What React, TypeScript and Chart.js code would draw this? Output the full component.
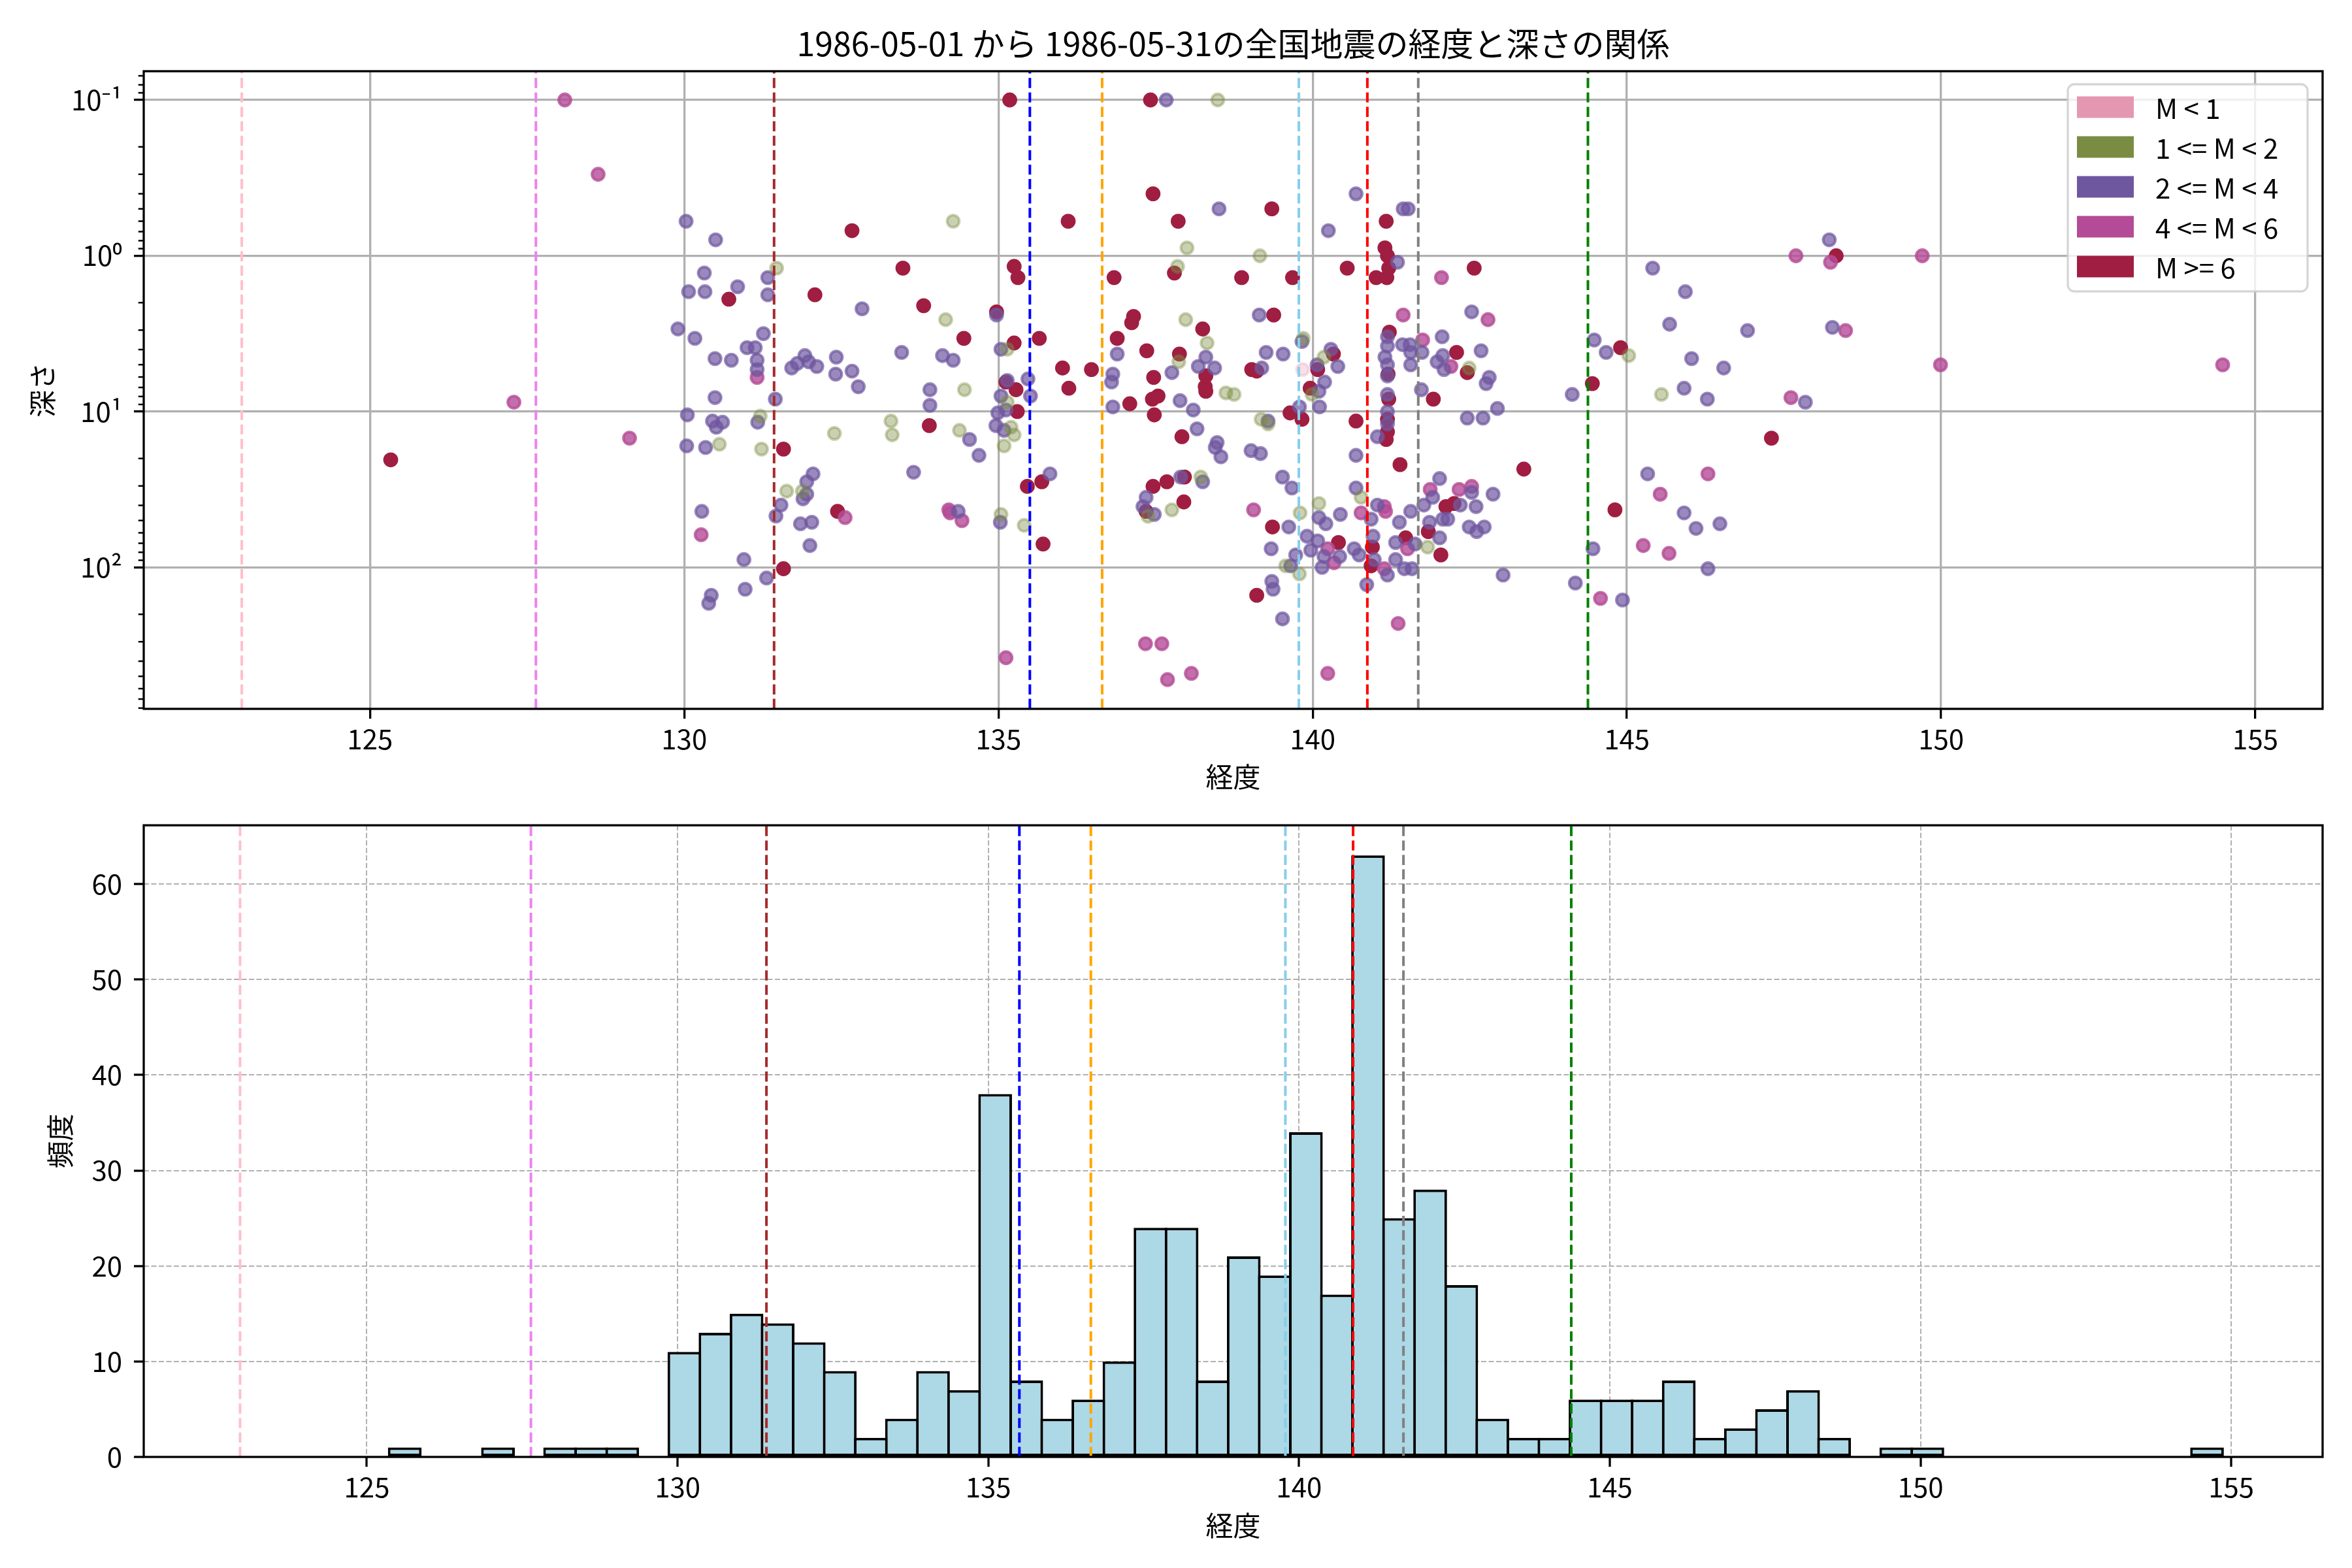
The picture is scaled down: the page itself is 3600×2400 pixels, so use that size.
import React, { useEffect, useRef } from 'react';
import { Chart, registerables } from 'chart.js';

Chart.register(...registerables);

const FONT = "'Noto Sans CJK JP', 'Noto Sans', 'DejaVu Sans', sans-serif";

const TITLE = '1986-05-01 から 1986-05-31の全国地震の経度と深さの関係';
const X_LABEL = '経度';
const Y_LABEL_TOP = '深さ';
const Y_LABEL_BOTTOM = '頻度';

const CATEGORY_LABELS = ['M < 1', '1 <= M < 2', '2 <= M < 4', '4 <= M < 6', 'M >= 6'];
const CATEGORY_COLORS = ['#E597B2', '#7A8C42', '#6F57A0', '#B44B96', '#A01E41'];
const CATEGORY_ALPHA = [0.3, 0.4, 0.7, 0.8, 1.0];

// [longitude, depth]
const QUAKES_M0 = [[139.84, 5.37]];

const QUAKES_M1 = [
  [131.47, 1.2], [131.21, 10.7], [130.56, 16.2], [131.23, 17.4], [132.39, 13.8], [133.29, 11.5],
  [133.31, 14.1], [134.16, 2.57], [134.46, 7.24], [134.38, 13.2], [134.28, 0.6], [135.14, 3.98],
  [135.2, 12.6], [135.25, 14.1], [135.09, 16.6], [135.14, 8.71], [135.04, 45.7], [135.41, 53.7],
  [131.88, 32.4], [131.63, 32.4], [138.49, 0.1], [138.0, 0.89], [139.16, 1.0], [137.85, 1.17],
  [137.98, 2.57], [138.32, 3.63], [137.87, 4.79], [138.62, 7.59], [138.75, 7.76], [139.18, 11.2],
  [139.29, 12.0], [139.85, 3.39], [139.99, 7.76], [140.18, 4.47], [142.49, 5.25], [145.03, 4.37],
  [137.38, 47.0], [137.76, 42.7], [138.22, 26.3], [139.8, 44.7], [139.57, 97.7], [139.79, 110],
  [140.1, 38.9], [140.77, 35.5], [141.83, 74.1], [145.55, 7.76],
];

const QUAKES_M2 = [
  [130.03, 0.6], [130.5, 0.79], [130.32, 1.29], [130.07, 1.7], [130.33, 1.7], [130.85, 1.58],
  [131.33, 1.38], [131.33, 1.78], [129.9, 2.95], [130.17, 3.39], [131.26, 3.16], [130.49, 4.57],
  [130.75, 4.68], [131.0, 3.89], [131.13, 3.89], [131.16, 4.68], [131.16, 5.37], [130.49, 8.13],
  [131.45, 8.32], [130.05, 10.5], [130.45, 11.5], [130.61, 11.7], [130.51, 12.6], [131.17, 11.7],
  [130.04, 16.6], [130.34, 17.0], [132.83, 2.19], [131.92, 4.37], [131.8, 4.9], [131.71, 5.25],
  [131.98, 4.79], [132.11, 5.13], [132.42, 4.47], [132.41, 5.75], [132.67, 5.5], [132.77, 6.92],
  [133.46, 4.17], [134.11, 4.37], [134.28, 4.68], [133.91, 7.24], [133.91, 9.12], [134.54, 15.1],
  [134.69, 19.1], [133.65, 24.5], [134.97, 2.4], [135.04, 3.98], [135.14, 6.31], [135.47, 6.17],
  [135.51, 7.94], [135.04, 7.94], [134.99, 10.2], [135.12, 9.77], [134.96, 12.3], [135.09, 13.2],
  [135.82, 25.1], [135.03, 51.3], [136.8, 6.46], [132.05, 25.1], [131.95, 28.2], [131.95, 33.9],
  [131.89, 36.3], [131.54, 39.8], [131.46, 46.8], [131.85, 52.5], [132.03, 51.3], [132.0, 72.4],
  [130.28, 43.7], [130.95, 89.1], [131.31, 117], [130.97, 138], [130.43, 151], [130.39, 170],
  [134.36, 43.7],
  [137.67, 0.1], [138.51, 0.5], [139.15, 2.4], [138.3, 4.47], [136.89, 4.27], [138.18, 5.13],
  [137.76, 5.62], [138.44, 5.25], [139.26, 4.17], [139.53, 4.27], [139.19, 5.25], [137.89, 8.51],
  [138.1, 9.77], [136.82, 5.75], [136.82, 9.33], [138.16, 12.9], [138.48, 15.8], [138.45, 17.0],
  [138.54, 19.5], [139.02, 17.8], [139.17, 18.6], [139.29, 11.5], [139.79, 9.33], [139.83, 3.55],
  [140.11, 9.33], [140.1, 7.41], [140.19, 6.46], [140.07, 5.01], [140.29, 3.98], [140.4, 5.13],
  [140.25, 0.69], [140.69, 0.4], [140.69, 19.1], [141.44, 0.5], [141.52, 0.5], [141.35, 1.1],
  [141.19, 3.31], [141.19, 3.8], [141.15, 4.47], [141.19, 5.01], [141.19, 5.9], [141.19, 7.76],
  [141.19, 10.0], [141.19, 12.0], [141.03, 14.5], [141.43, 3.72], [141.55, 3.72], [141.56, 4.17],
  [141.56, 5.01], [141.74, 4.17], [141.73, 7.24], [142.53, 2.29], [142.06, 3.31], [142.07, 4.37],
  [141.98, 4.79], [142.09, 5.37], [142.68, 4.07], [142.81, 6.03], [142.76, 6.61], [142.94, 9.55],
  [142.46, 11.0], [142.71, 11.0], [144.48, 3.47], [144.67, 4.17], [144.13, 7.76], [142.02, 26.9],
  [141.91, 35.5], [142.53, 33.0], [142.87, 33.9], [141.77, 39.8], [142.35, 39.8], [142.6, 40.7],
  [141.86, 51.3], [142.07, 49.0], [142.15, 49.0], [142.02, 64.6], [142.49, 55.0], [142.61, 58.9],
  [142.73, 55.0], [143.03, 112], [144.18, 126], [144.46, 75.9], [144.93, 162], [137.35, 35.5],
  [137.3, 40.7], [137.48, 45.7], [137.9, 26.3], [138.25, 28.2], [139.62, 55.0], [139.34, 75.9],
  [139.52, 26.3], [139.67, 30.9], [139.73, 83.2], [139.65, 97.7], [139.35, 123], [139.37, 138],
  [139.52, 214], [139.91, 63.1], [139.97, 77.6], [140.1, 47.9], [140.21, 52.5], [140.08, 67.6],
  [140.18, 85.1], [140.15, 100], [140.43, 85.1], [140.44, 45.7], [140.69, 30.9], [140.66, 75.9],
  [140.74, 83.2], [140.96, 63.1], [140.93, 49.0], [141.03, 39.8], [140.98, 89.1], [141.19, 112],
  [140.86, 129], [141.38, 51.3], [141.32, 69.2], [141.32, 89.1], [141.46, 102], [141.56, 43.7],
  [141.58, 102], [141.63, 70.8],
  [148.22, 0.79], [145.41, 1.2], [145.93, 1.7], [145.68, 2.75], [146.92, 3.02], [148.27, 2.88],
  [146.03, 4.57], [146.54, 5.25], [145.91, 7.08], [146.28, 8.32], [147.84, 8.71],
  [145.33, 25.1], [145.91, 44.7], [146.1, 56.2], [146.48, 52.5], [146.29, 102],
];

const QUAKES_M4 = [
  [127.29, 8.7], [128.1, 0.1], [128.63, 0.3], [129.13, 14.8], [131.16, 6.03], [135.12, 380],
  [132.56, 47.9], [130.27, 61.7], [134.21, 42.7], [134.23, 44.7], [134.42, 50.1], [141.75, 3.47],
  [141.44, 2.4], [142.05, 1.38], [142.79, 2.57], [142.2, 5.13], [141.87, 31.6], [142.33, 31.6],
  [142.53, 30.2], [144.58, 158], [139.06, 42.7], [140.24, 75.9], [140.34, 93.3], [140.77, 44.7],
  [141.14, 40.7], [141.16, 43.7], [141.14, 102], [141.51, 75.9], [141.36, 229], [140.24, 479],
  [137.34, 309], [137.6, 309], [137.69, 525], [138.07, 479], [147.69, 1.0], [148.24, 1.1],
  [149.7, 1.0], [148.48, 3.02], [149.99, 5.01], [154.48, 5.01], [147.61, 8.13], [145.53, 33.9],
  [146.29, 25.1], [145.26, 72.4], [145.67, 81.3],
];

const QUAKES_M6 = [
  [125.33, 20.4], [130.71, 1.9], [132.08, 1.78], [132.67, 0.69], [131.58, 17.4], [133.48, 1.2],
  [133.81, 2.09], [134.45, 3.39], [133.9, 12.3], [134.97, 2.29], [135.25, 3.63], [135.25, 1.17],
  [135.31, 1.38], [135.18, 0.1], [135.12, 6.46], [135.28, 7.24], [135.3, 10.0], [135.65, 3.39],
  [136.11, 0.6], [136.02, 5.25], [136.48, 5.37], [136.12, 7.08], [135.46, 30.2], [135.69, 28.2],
  [135.71, 70.8], [132.44, 43.7], [131.58, 102],
  [137.42, 0.1], [137.46, 0.4], [137.86, 0.6], [139.35, 0.5], [137.8, 1.29], [136.84, 1.38],
  [138.87, 1.38], [139.68, 1.38], [137.15, 2.45], [137.12, 2.69], [139.38, 2.4], [136.89, 3.39],
  [138.25, 2.95], [137.36, 4.07], [137.88, 4.27], [139.03, 5.37], [139.11, 5.5], [137.47, 6.03],
  [138.3, 5.89], [138.29, 6.92], [138.3, 7.41], [137.54, 7.94], [137.45, 8.32], [137.09, 8.91],
  [137.48, 10.5], [137.92, 14.5], [139.64, 10.2], [139.83, 11.2], [140.08, 5.37], [139.96, 7.08],
  [140.33, 4.27], [140.55, 1.2], [140.69, 11.5], [141.17, 0.6], [141.15, 0.89], [141.19, 1.0],
  [141.21, 1.2], [141.01, 1.38], [141.18, 1.38], [141.22, 3.09], [141.2, 5.75], [141.21, 8.32],
  [141.19, 11.2], [141.19, 13.5], [141.17, 15.1], [142.57, 1.2], [142.29, 4.17], [142.46, 5.62],
  [141.92, 8.32], [143.36, 23.4], [144.9, 3.89], [144.45, 6.61], [141.39, 21.9], [142.12, 40.7],
  [142.25, 38.9], [141.84, 58.9], [142.04, 83.2], [144.81, 42.7], [137.35, 43.7], [137.46, 30.2],
  [137.68, 28.2], [137.96, 26.3], [137.95, 38.0], [139.36, 55.0], [139.11, 151], [140.41, 69.2],
  [140.95, 74.1], [140.93, 97.7], [141.48, 64.6], [148.33, 1.0], [147.3, 14.8],
];

const CATEGORY_DATA = [QUAKES_M0, QUAKES_M1, QUAKES_M2, QUAKES_M4, QUAKES_M6];

// reference longitudes (dashed vertical lines)
const REF_LON = [122.96, 127.64, 131.43, 135.5, 136.65, 139.78, 140.87, 141.68, 144.38];
const REF_COLORS = ['#FFC0CB', '#EE82EE', '#A52A2A', '#0000FF', '#FFA500', '#87CEEB', '#FF0000', '#808080', '#008000'];

const X_TICKS = [125, 130, 135, 140, 145, 150, 155];
const DEPTH_TICKS = [0.1, 1, 10, 100];
const DEPTH_TICK_LABELS = ['10⁻¹', '10⁰', '10¹', '10²'];
const COUNT_TICKS = [0, 10, 20, 30, 40, 50, 60];

const HIST_BIN_START = 125.36;
const HIST_BIN_WIDTH = 0.5;
const HIST_COUNTS = [
  1, 0, 0, 1, 0, 1, 1, 1, 0, 11, 13, 15, 14, 12, 9, 2, 4, 9, 7, 38, 8, 4, 6, 10, 24, 24, 8, 21, 19, 34,
  17, 63, 25, 28, 18, 4, 2, 2, 6, 6, 6, 8, 2, 3, 5, 7, 2, 0, 1, 1, 0, 0, 0, 0, 0, 0, 0, 0, 1,
];

const TOP_X_RANGE = [121.4, 156.07];
const BOTTOM_X_RANGE = [121.41, 156.47];
const DEPTH_RANGE = [0.0654, 809];
const COUNT_RANGE = [0, 66.15];

function rgba(hex: string, a: number) {
  const n = parseInt(hex.slice(1), 16);
  return `rgba(${(n >> 16) & 255},${(n >> 8) & 255},${n & 255},${a})`;
}

const refLinesPlugin = {
  id: 'refLines',
  afterDatasetsDraw(chart: any) {
    const { ctx, chartArea, scales } = chart;
    ctx.save();
    ctx.beginPath();
    ctx.rect(chartArea.left, chartArea.top, chartArea.right - chartArea.left, chartArea.bottom - chartArea.top);
    ctx.clip();
    REF_LON.forEach((lon, i) => {
      const x = scales.x.getPixelForValue(lon);
      ctx.strokeStyle = REF_COLORS[i];
      ctx.lineWidth = 4;
      ctx.setLineDash([15.4, 6.7]);
      ctx.beginPath();
      ctx.moveTo(x, chartArea.bottom);
      ctx.lineTo(x, chartArea.top);
      ctx.stroke();
    });
    ctx.restore();
  },
};

const framePlugin = {
  id: 'frame',
  afterDraw(chart: any) {
    const { ctx, chartArea } = chart;
    ctx.save();
    ctx.strokeStyle = '#000';
    ctx.lineWidth = 3.3;
    ctx.setLineDash([]);
    ctx.strokeRect(chartArea.left, chartArea.top, chartArea.right - chartArea.left, chartArea.bottom - chartArea.top);
    ctx.restore();
  },
};

const minorTicksPlugin = {
  id: 'minorTicks',
  afterDraw(chart: any) {
    const { ctx, chartArea, scales } = chart;
    const y = scales.y;
    ctx.save();
    ctx.strokeStyle = '#000';
    ctx.lineWidth = 2.5;
    const d0 = Math.floor(Math.log10(y.min));
    const d1 = Math.floor(Math.log10(y.max));
    for (let d = d0; d <= d1; d++) {
      for (let k = 2; k <= 9; k++) {
        const v = k * Math.pow(10, d);
        if (v < y.min || v > y.max) continue;
        const py = y.getPixelForValue(v);
        ctx.beginPath();
        ctx.moveTo(chartArea.left, py);
        ctx.lineTo(chartArea.left - 8.3, py);
        ctx.stroke();
      }
    }
    ctx.restore();
  },
};

const legendPlugin = {
  id: 'boxLegend',
  afterDraw(chart: any) {
    const { ctx, chartArea } = chart;
    ctx.save();
    ctx.font = `42px ${FONT}`;
    const textW = Math.max(...CATEGORY_LABELS.map((t) => ctx.measureText(t).width));
    const padL = 14;
    const patchW = 87;
    const patchH = 33;
    const gap = 33;
    const boxW = Math.max(367, padL + patchW + gap + textW + 20);
    const boxH = 317;
    const boxRight = chartArea.right - 23;
    const boxLeft = boxRight - boxW;
    const boxTop = chartArea.top + 20;
    ctx.beginPath();
    ctx.roundRect(boxLeft, boxTop, boxW, boxH, 10);
    ctx.fillStyle = 'rgba(255,255,255,0.8)';
    ctx.fill();
    ctx.strokeStyle = 'rgba(204,204,204,0.8)';
    ctx.lineWidth = 3.3;
    ctx.stroke();
    CATEGORY_LABELS.forEach((label, i) => {
      const cy = boxTop + 35 + i * 61;
      ctx.fillStyle = CATEGORY_COLORS[i];
      ctx.fillRect(boxLeft + padL, cy - patchH / 2, patchW, patchH);
      ctx.fillStyle = '#000';
      ctx.textBaseline = 'middle';
      ctx.textAlign = 'left';
      ctx.fillText(label, boxLeft + padL + patchW + gap, cy + 2);
    });
    ctx.restore();
  },
};

const tickFont = { family: FONT, size: 42 };
const labelFont = { family: FONT, size: 42, lineHeight: 1.2 };

export default function App() {
  const topRef = useRef<HTMLCanvasElement>(null);
  const bottomRef = useRef<HTMLCanvasElement>(null);

  useEffect(() => {
    Chart.defaults.font.family = FONT;
    Chart.defaults.color = '#000';

    const top = new Chart(topRef.current as HTMLCanvasElement, {
      type: 'scatter',
      data: {
        datasets: CATEGORY_DATA.map((pts, i) => ({
          label: CATEGORY_LABELS[i],
          data: pts.map(([x, y]) => ({ x, y })),
          pointBackgroundColor: rgba(CATEGORY_COLORS[i], CATEGORY_ALPHA[i]),
          pointBorderColor: rgba(CATEGORY_COLORS[i], CATEGORY_ALPHA[i]),
          pointBorderWidth: 4.2,
          pointRadius: 9.3,
          pointHoverRadius: 9.3,
          showLine: false,
        })),
      },
      options: {
        animation: false,
        responsive: false,
        devicePixelRatio: 1,
        events: [],
        layout: { padding: { top: 0, right: 45, bottom: 0, left: 0 } },
        plugins: {
          legend: { display: false },
          tooltip: { enabled: false },
          title: {
            display: true,
            text: TITLE,
            color: '#000',
            fullSize: false,
            font: { family: FONT, size: 50, weight: 'normal', lineHeight: 1.2 },
            padding: { top: 37, bottom: 12 },
          },
        },
        scales: {
          x: {
            type: 'linear',
            min: TOP_X_RANGE[0],
            max: TOP_X_RANGE[1],
            bounds: 'data',
            afterBuildTicks: (s: any) => { s.ticks = X_TICKS.map((v) => ({ value: v })); },
            afterFit: (s: any) => { s.height = 135; },
            ticks: { font: tickFont, color: '#000', padding: 6, autoSkip: false, maxRotation: 0, callback: (v: any) => String(v) },
            grid: { color: '#b0b0b0', lineWidth: 3.3, tickColor: '#000', tickWidth: 3.3, tickLength: 15 },
            border: { display: false },
            title: { display: true, text: X_LABEL, color: '#000', font: labelFont, padding: { top: 0, bottom: 6 } },
          },
          y: {
            type: 'logarithmic',
            reverse: true,
            min: DEPTH_RANGE[0],
            max: DEPTH_RANGE[1],
            bounds: 'data',
            afterBuildTicks: (s: any) => { s.ticks = DEPTH_TICKS.map((v) => ({ value: v })); },
            afterFit: (s: any) => { s.width = 220; },
            ticks: {
              font: tickFont,
              color: '#000',
              padding: 18,
              autoSkip: false,
              callback: (v: any) => {
                const i = DEPTH_TICKS.indexOf(v);
                return i >= 0 ? DEPTH_TICK_LABELS[i] : '';
              },
            },
            grid: { color: '#b0b0b0', lineWidth: 3.3, tickColor: '#000', tickWidth: 3.3, tickLength: 15 },
            border: { display: false },
            title: { display: true, text: Y_LABEL_TOP, color: '#000', font: labelFont, padding: { top: 40, bottom: 0 } },
          },
        },
      } as any,
      plugins: [refLinesPlugin, framePlugin, minorTicksPlugin, legendPlugin],
    });

    const bottom = new Chart(bottomRef.current as HTMLCanvasElement, {
      type: 'bar',
      data: {
        datasets: [
          {
            label: '頻度',
            data: HIST_COUNTS.map((c, i) => ({ x: HIST_BIN_START + (i + 0.5) * HIST_BIN_WIDTH, y: c })),
            backgroundColor: '#ADD8E6',
            borderColor: '#000',
            borderWidth: 4,
            borderSkipped: false,
            barPercentage: 1.084,
            categoryPercentage: 1,
          },
        ],
      },
      options: {
        animation: false,
        responsive: false,
        devicePixelRatio: 1,
        events: [],
        layout: { padding: { top: 35, right: 45, bottom: 0, left: 0 } },
        plugins: {
          legend: { display: false },
          tooltip: { enabled: false },
          title: { display: false },
        },
        scales: {
          x: {
            type: 'linear',
            min: BOTTOM_X_RANGE[0],
            max: BOTTOM_X_RANGE[1],
            bounds: 'data',
            offset: false,
            afterBuildTicks: (s: any) => { s.ticks = X_TICKS.map((v) => ({ value: v })); },
            afterFit: (s: any) => { s.height = 170; },
            ticks: { font: tickFont, color: '#000', padding: 6, autoSkip: false, maxRotation: 0, callback: (v: any) => String(v) },
            grid: { offset: false, color: '#b0b0b0', lineWidth: 2, tickColor: '#000', tickWidth: 3.3, tickLength: 15, tickBorderDash: [] },
            border: { display: false, dash: [8, 3.5] },
            title: { display: true, text: X_LABEL, color: '#000', font: labelFont, padding: { top: 0, bottom: 40 } },
          },
          y: {
            type: 'linear',
            min: COUNT_RANGE[0],
            max: COUNT_RANGE[1],
            bounds: 'data',
            afterBuildTicks: (s: any) => { s.ticks = COUNT_TICKS.map((v) => ({ value: v })); },
            afterFit: (s: any) => { s.width = 220; },
            ticks: { font: tickFont, color: '#000', padding: 18, autoSkip: false, callback: (v: any) => String(v) },
            grid: { color: '#b0b0b0', lineWidth: 2, tickColor: '#000', tickWidth: 3.3, tickLength: 15, tickBorderDash: [] },
            border: { display: false, dash: [8, 3.5] },
            title: { display: true, text: Y_LABEL_BOTTOM, color: '#000', font: labelFont, padding: { top: 67, bottom: 0 } },
          },
        },
      } as any,
      plugins: [refLinesPlugin, framePlugin],
    });

    return () => {
      top.destroy();
      bottom.destroy();
    };
  }, []);

  return (
    <div style={{ position: 'absolute', left: 0, top: 0, width: 3600, height: 2400, background: '#fff' }}>
      <canvas
        ref={topRef}
        width={3600}
        height={1220}
        style={{ position: 'absolute', left: 0, top: 0, width: 3600, height: 1220 }}
      />
      <canvas
        ref={bottomRef}
        width={3600}
        height={1180}
        style={{ position: 'absolute', left: 0, top: 1220, width: 3600, height: 1180 }}
      />
    </div>
  );
}
